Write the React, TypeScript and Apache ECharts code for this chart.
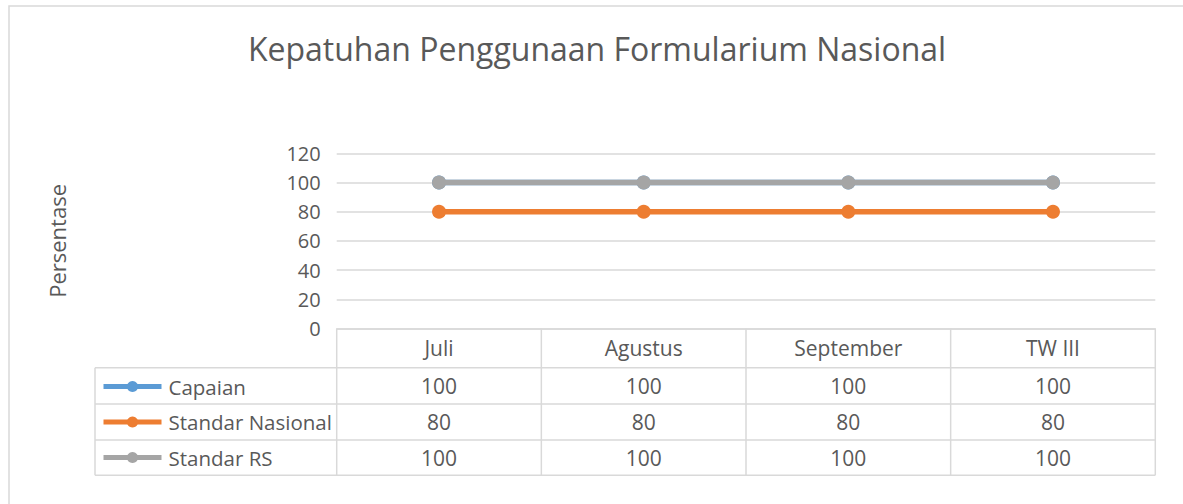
import React, { useEffect, useRef } from "react";
import * as echarts from "echarts";

const categories = ["Juli", "Agustus", "September", "TW III"];
const seriesNames = ["Capaian", "Standar Nasional", "Standar RS"];
const capaian = [100, 100, 100, 100];
const standarNasional = [80, 80, 80, 80];
const standarRS = [100, 100, 100, 100];
const seriesValues = [capaian, standarNasional, standarRS];
const seriesColors = ["#5b9bd5", "#ed7d31", "#a5a5a5"];
const titleText = "Kepatuhan Penggunaan Formularium Nasional";
const yAxisName = "Persentase";
const yMin = 0;
const yMax = 120;
const yInterval = 20;

const FONT = "'Open Sans', 'Noto Sans', sans-serif";
const TEXT = "#595959";
const LINE = "#d9d9d9";

// layout
const W = 1183;
const H = 504;
const gridLeft = 336.7;
const gridRight = 1155.3;
const gridTop = 153.3;
const gridBottom = 328.5;
const tableLeft = 95;
const rowLines = [367.7, 404, 440, 475.3];
const TABLE_FS = 21;

export default function App() {
  const ref = useRef<HTMLDivElement>(null);
  useEffect(() => {
    if (!ref.current) return;
    const chart = echarts.init(ref.current, undefined, { renderer: "svg" });
    const option: any = {
      animation: false,
      backgroundColor: "#ffffff",
      title: {
        text: titleText,
        top: 27,
        left: 592,
        textAlign: "center",
        textStyle: { fontFamily: FONT, fontSize: 32, fontWeight: "normal", color: TEXT },
      },
      grid: {
        left: gridLeft,
        right: W - gridRight,
        top: gridTop,
        bottom: H - gridBottom,
        containLabel: false,
      },
      legend: {
        orient: "vertical",
        left: 101,
        top: 376,
        padding: 0,
        itemWidth: 58,
        itemHeight: 14,
        itemGap: 14.5,
        lineStyle: { width: 5 },
        textStyle: { fontFamily: FONT, fontSize: 20.5, color: TEXT, padding: [0, 0, 0, 2] },
        data: seriesNames,
        selectedMode: false,
      },
      xAxis: {
        type: "category",
        data: categories,
        boundaryGap: true,
        axisLine: { show: true, lineStyle: { color: LINE, width: 1.5 } },
        axisTick: { show: false },
        axisLabel: {
          fontFamily: FONT,
          fontSize: TABLE_FS,
          color: TEXT,
          margin: 9,
        },
      },
      yAxis: {
        type: "value",
        min: yMin,
        max: yMax,
        interval: yInterval,
        name: yAxisName,
        nameLocation: "middle",
        nameRotate: 90,
        nameGap: 269,
        nameTextStyle: { fontFamily: FONT, fontSize: 22, color: TEXT },
        axisLine: { show: false },
        axisTick: { show: false },
        splitLine: { lineStyle: { color: LINE, width: 1.5 } },
        axisLabel: { fontFamily: FONT, fontSize: 20, color: TEXT, margin: 16 },
      },
      series: seriesNames.map((name, i) => ({
        name,
        type: "line",
        data: seriesValues[i],
        symbol: "circle",
        symbolSize: 14,
        lineStyle: { width: 5.5, color: seriesColors[i] },
        itemStyle: { color: seriesColors[i] },
        z: 2 + i,
      })),
    };
    chart.setOption(option);

    const centers = categories.map((_, i) => chart.convertToPixel({ xAxisIndex: 0 }, i) as number);
    const half = centers.length > 1 ? (centers[1] - centers[0]) / 2 : 0;
    const graphics: any[] = [];
    graphics.push({
      type: "rect",
      shape: { x: 9, y: 6, width: 1300, height: 700 },
      style: { fill: "none", stroke: LINE, lineWidth: 1.5 },
      silent: true,
    });
    const tableBottom = rowLines[rowLines.length - 1];
    rowLines.forEach((y) => {
      graphics.push({
        type: "line",
        shape: { x1: tableLeft, y1: y, x2: gridRight, y2: y },
        style: { stroke: LINE, lineWidth: 1.5 },
        silent: true,
      });
    });
    graphics.push({
      type: "line",
      shape: { x1: tableLeft, y1: rowLines[0], x2: tableLeft, y2: tableBottom },
      style: { stroke: LINE, lineWidth: 1.5 },
      silent: true,
    });
    const bounds = [centers[0] - half, ...centers.map((c) => c + half)];
    bounds.forEach((x) => {
      graphics.push({
        type: "line",
        shape: { x1: x, y1: gridBottom, x2: x, y2: tableBottom },
        style: { stroke: LINE, lineWidth: 1.5 },
        silent: true,
      });
    });
    seriesValues.forEach((vals, r) => {
      const yc = (rowLines[r] + rowLines[r + 1]) / 2;
      vals.forEach((v, c) => {
        graphics.push({
          type: "text",
          x: centers[c],
          y: yc,
          style: {
            text: String(v),
            fontFamily: FONT,
            fontSize: TABLE_FS,
            fill: TEXT,
            align: "center",
            verticalAlign: "middle",
          },
          silent: true,
        });
      });
    });
    chart.setOption({ graphic: graphics });

    return () => chart.dispose();
  }, []);
  return (
    <div
      ref={ref}
      style={{ position: "absolute", left: 0, top: 0, width: W, height: H, background: "#fff" }}
    />
  );
}
